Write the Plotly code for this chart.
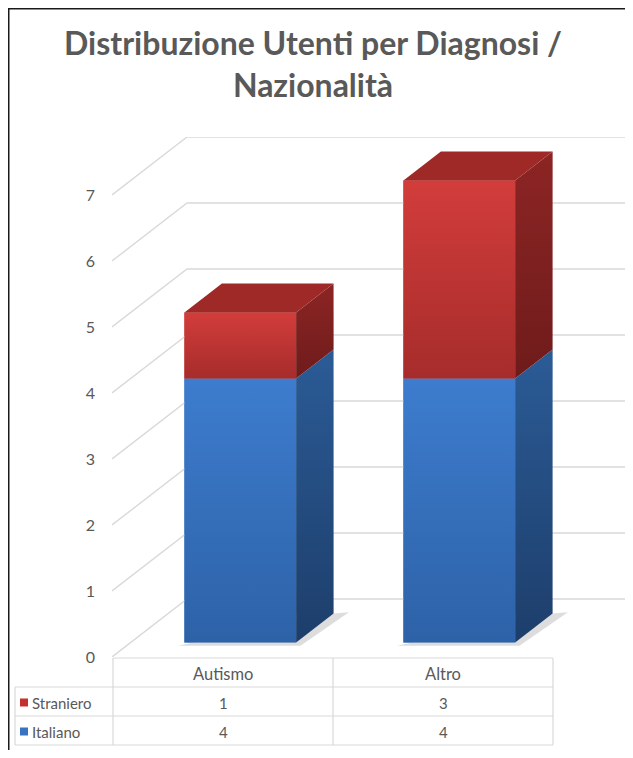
import plotly.graph_objects as go

# ---- data ----
categories = ["Autismo", "Altro"]
series_names = ["Straniero", "Italiano"]
italiano = [4, 4]
straniero = [1, 3]
y_ticks = [0, 1, 2, 3, 4, 5, 6, 7]
title_text = "Distribuzione Utenti per Diagnosi /<br>Nazionalità"

# ---- geometry / style ----
OFF = 8                      # page body margin: figure sits at (8, 8)
W, H = 617, 742
L, R, T, B = 104, 0, 129, 93
DX = 75 / 219.0       # full depth offset along x (category units)
DY = 58 / 66.0        # full depth offset along y (value units)
BAR_W = 0.51
D0, D1 = 0.25, 0.75   # bar depth from/to (fraction of floor depth)
YMAX = max(y_ticks)

GRID = "#d9d9d9"
TXT = "#595959"
FONT = "Lato"

RED_FRONT = ["#a62c2b", "#d23d3b"]   # bottom, top
RED_SIDE = ["#6f1b1b", "#8c2524"]
RED_TOP = "#9e2927"
BLUE_FRONT = ["#2d62a7", "#3d7cce"]
BLUE_SIDE = ["#1d3e6b", "#2b5b96"]
BLUE_TOP = "#2f66ad"


def px2x(px):
    # px given in reference page coordinates
    return (px - OFF - L) / (W - L - R)


def py2y(py):
    return (H - B - (py - OFF)) / (H - T - B)


fig = go.Figure()


def poly(xs, ys, colors=None, flat=None, opacity=1.0):
    kw = dict(x=xs + [xs[0]], y=ys + [ys[0]], mode="lines", fill="toself",
              line=dict(width=0), hoverinfo="skip", showlegend=False, opacity=opacity)
    if colors is not None:
        kw["fillcolor"] = colors[1]
        kw["fillgradient"] = dict(type="vertical",
                                  colorscale=[[0, colors[0]], [1, colors[1]]])
    else:
        kw["fillcolor"] = flat
    fig.add_trace(go.Scatter(**kw))


# ---- gridlines (front diagonal + back wall) ----
for v in y_ticks:
    fig.add_trace(go.Scatter(
        x=[0, DX, len(categories) + DX], y=[v, v + DY, v + DY],
        mode="lines", line=dict(color=GRID, width=1.4),
        hoverinfo="skip", showlegend=False))

# ---- bars ----
for i, cat in enumerate(categories):
    segs = [(0, italiano[i], BLUE_FRONT, BLUE_SIDE, BLUE_TOP, "Italiano"),
            (italiano[i], italiano[i] + straniero[i], RED_FRONT, RED_SIDE, RED_TOP, "Straniero")]
    xl = i + 0.5 - BAR_W / 2 + D0 * DX
    xr = xl + BAR_W
    ox = (D1 - D0) * DX
    oy = (D1 - D0) * DY
    # soft floor shadow
    by = D0 * DY
    poly([xl - 0.03, xr + 0.02, xr + ox + 0.07, xr + ox],
         [by - 0.05, by - 0.05, by + oy + 0.02, by + oy], flat="#cfcfcf", opacity=0.7)
    for k, (b0, b1, fc, sc, tc, name) in enumerate(segs):
        y0 = b0 + D0 * DY
        y1 = b1 + D0 * DY
        # front face (bar through the library's axes)
        fig.add_trace(go.Bar(
            x=[i + 0.5 + D0 * DX], y=[b1 - b0], base=[y0], width=[BAR_W],
            marker=dict(color=fc[1], line=dict(width=0)),
            name=name, showlegend=False,
            hovertext=[f"{name} - {cat}: {b1 - b0}"], hoverinfo="text"))
        # gradient overlay on front
        poly([xl, xr, xr, xl], [y0, y0, y1, y1], colors=fc)
        # side face
        poly([xr, xr + ox, xr + ox, xr], [y0, y0 + oy, y1 + oy, y1], colors=sc)
        # top face (only visible on topmost segment)
        if k == len(segs) - 1:
            poly([xl, xr, xr + ox, xl + ox], [y1, y1, y1 + oy, y1 + oy], flat=tc)

shapes = []
annotations = []

# ---- frame (left / top) ----
shapes.append(dict(type="line", xref="paper", yref="paper",
                   x0=px2x(8.5), x1=px2x(8.5), y0=py2y(7.5), y1=py2y(770),
                   line=dict(color="#1a1a1a", width=2)))
shapes.append(dict(type="line", xref="paper", yref="paper",
                   x0=px2x(7.5), x1=px2x(650), y0=py2y(8.5), y1=py2y(8.5),
                   line=dict(color="#1a1a1a", width=2)))

# ---- data table ----
tx0, tx1, txm = 113, 553, 333
lx0 = 15
rows_y = [658, 687, 716, 745]


def hline(py, a, b):
    shapes.append(dict(type="line", xref="paper", yref="paper",
                       x0=px2x(a), x1=px2x(b), y0=py2y(py), y1=py2y(py),
                       line=dict(color=GRID, width=1.2)))


def vline(px, a, b):
    shapes.append(dict(type="line", xref="paper", yref="paper",
                       x0=px2x(px), x1=px2x(px), y0=py2y(a), y1=py2y(b),
                       line=dict(color=GRID, width=1.2)))


hline(rows_y[0], tx0, tx1)
for ry in rows_y[1:]:
    hline(ry, lx0, tx1)
vline(lx0, rows_y[1], rows_y[3])
vline(tx0, rows_y[0], rows_y[3])
vline(txm, rows_y[0], rows_y[3])
vline(tx1, rows_y[0], rows_y[3])

col_c = [(tx0 + txm) / 2, (txm + tx1) / 2]
row_c = [(rows_y[j] + rows_y[j + 1]) / 2 for j in range(3)]


def txt(s, px, py, anchor="center", size=15):
    annotations.append(dict(text=s, x=px2x(px), y=py2y(py), xref="paper", yref="paper",
                            showarrow=False, xanchor=anchor, yanchor="middle",
                            font=dict(family=FONT, size=size, color=TXT)))


for c, cat in enumerate(categories):
    txt(cat, col_c[c], row_c[0] + 1, size=16.5)
    txt(str(straniero[c]), col_c[c], row_c[1] + 1)
    txt(str(italiano[c]), col_c[c], row_c[2] + 1)

leg_cols = ["#c3302e", "#3a73bf"]
for j, name in enumerate(series_names):
    cy = row_c[j + 1]
    shapes.append(dict(type="rect", xref="paper", yref="paper",
                       x0=px2x(20), x1=px2x(28), y0=py2y(cy - 4 + 1), y1=py2y(cy + 4 + 1),
                       fillcolor=leg_cols[j], line=dict(width=0)))
    txt(name, 30, cy + 1, anchor="left")

fig.update_layout(
    width=W, height=H,
    margin=dict(l=L, r=R, t=T, b=B),
    paper_bgcolor="white", plot_bgcolor="white",
    barmode="overlay",
    showlegend=False,
    title=dict(text=title_text, x=(313 - OFF) / W, xref="container", xanchor="center",
               y=1 - 47 / H, yref="container", yanchor="top",
               font=dict(family=FONT, size=32, color=TXT, weight="bold")),
    xaxis=dict(range=[0, len(categories) + DX], visible=False, fixedrange=True),
    yaxis=dict(range=[0, YMAX + DY], tickvals=y_ticks, showgrid=False, zeroline=False,
               showline=False, ticks="", ticklabelstandoff=16,
               tickfont=dict(family=FONT, size=16, color=TXT), fixedrange=True),
    shapes=shapes,
    annotations=annotations,
)

fig.write_html("out.html")
